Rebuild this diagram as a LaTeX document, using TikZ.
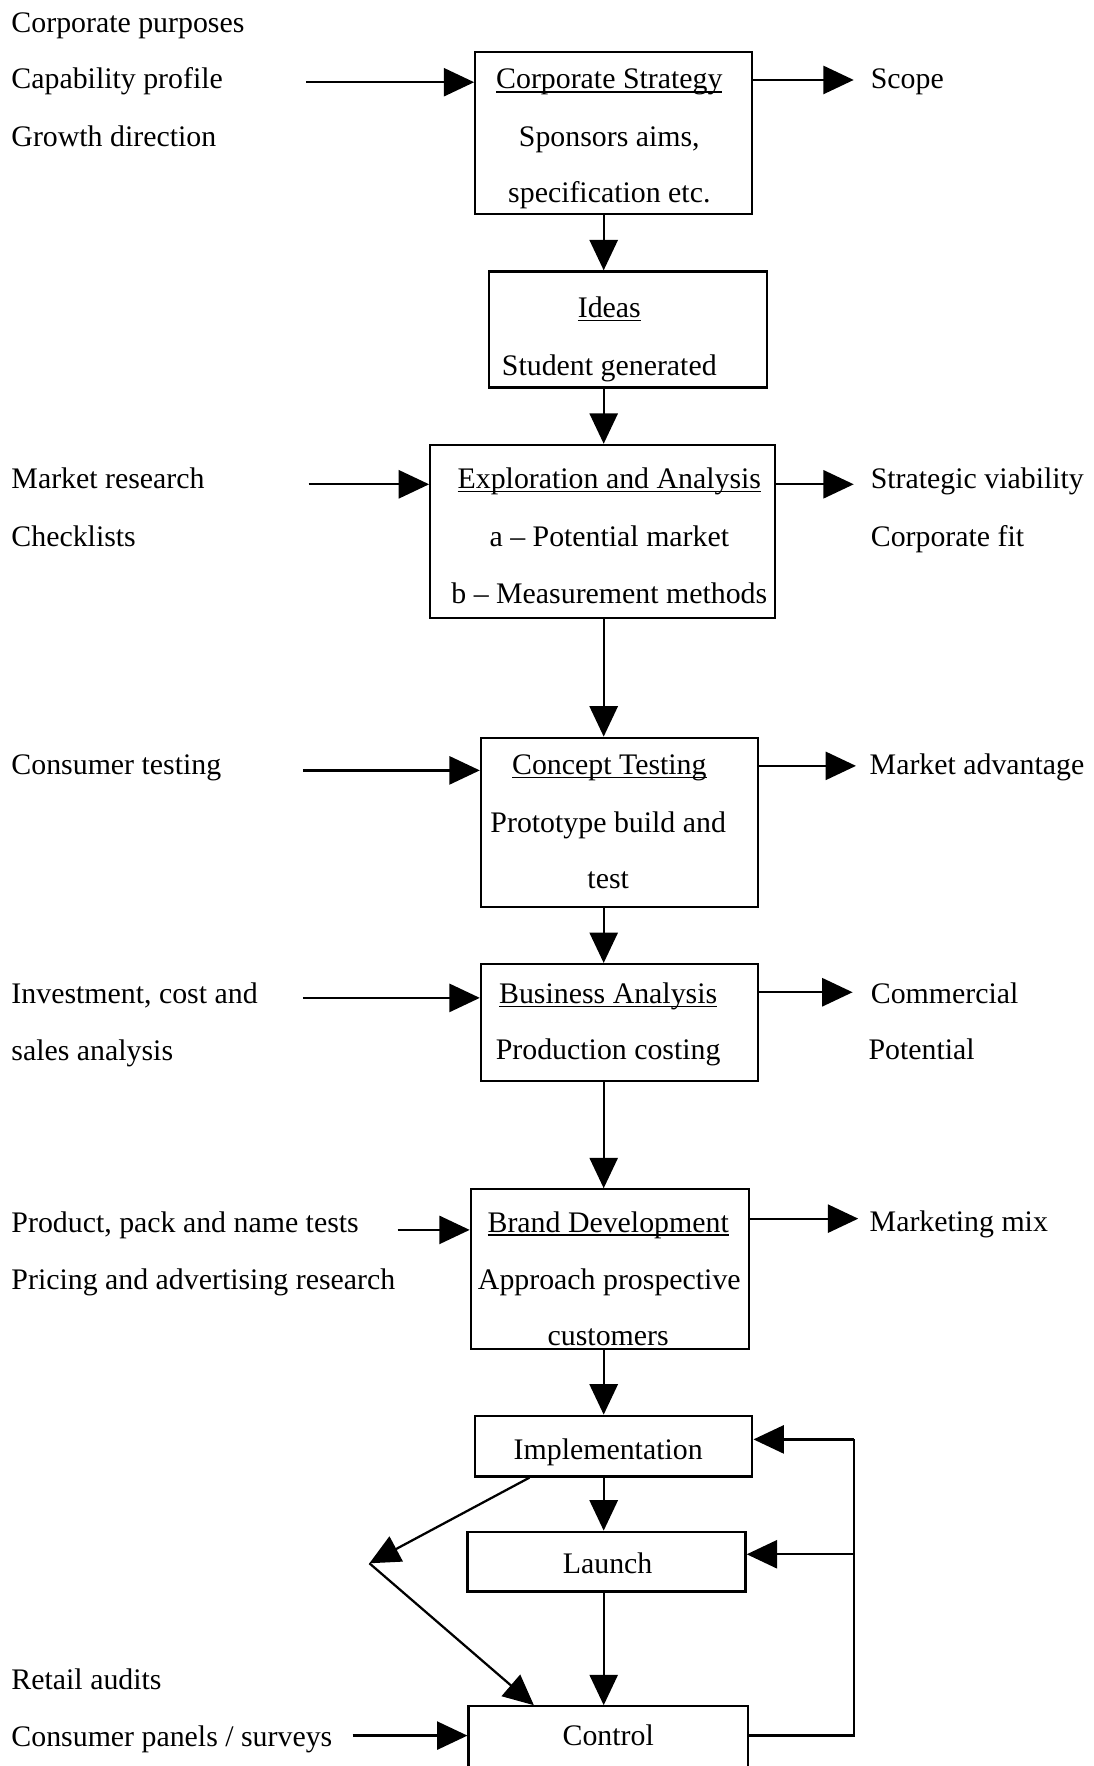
\documentclass[tikz,border=0pt]{standalone}
\usepackage{fontspec}
\setmainfont{Liberation Serif}
\usetikzlibrary{arrows.meta,calc}
\newcommand\myul[1]{\setbox0\hbox{#1}\rlap{\rule[-3.2pt]{\wd0}{1.3pt}}\box0}
\begin{document}
\begin{tikzpicture}[x=1pt,y=-1pt,
  box/.style={draw,line width=2pt,inner sep=0pt},
  t/.style={anchor=base,inner sep=0pt,font=\fontsize{26.5}{30}\selectfont},
  lt/.style={t,anchor=base west},
  arr/.style={line width=2pt,-{Triangle[length=27pt,width=25pt]}},
  ln/.style={line width=2pt}]
\useasboundingbox (0,0) rectangle (971,1568);
\clip (0,0) rectangle (971,1568);
\fill[white] (0,0) rectangle (971,1568);
% boxes
\node[box,minimum width=246pt,minimum height=144pt] (cs) at (545,118) {};
\node[box,minimum width=247pt,minimum height=103pt] (ideas) at (557.5,292.5) {};
\node[box,minimum width=306pt,minimum height=154pt] (expl) at (535,472) {};
\node[box,minimum width=246pt,minimum height=150pt] (conc) at (550,730) {};
\node[box,minimum width=246pt,minimum height=104pt] (bus) at (550,908) {};
\node[box,minimum width=247pt,minimum height=142pt] (brand) at (541.5,1127) {};
\node[box,minimum width=246pt,minimum height=54pt] (impl) at (545,1284) {};
\node[box,minimum width=247pt,minimum height=53pt] (launch) at (538.5,1386.5) {};
\node[box,minimum width=248pt,minimum height=85pt] (ctrl) at (540,1557.5) {};
% box texts
\node[t] (cs1) at (541,79) {\myul{Corporate Strategy}};
\node[t] (cs2) at (541,130) {Sponsors aims,};
\node[t] (cs3) at (541,180) {specification etc.};
\node[t] (id1) at (541,282) {\myul{Ideas}};
\node[t] (id2) at (541,333) {Student generated};
\node[t] (ex1) at (541,434) {\myul{Exploration and Analysis}};
\node[t] (ex2) at (541,485) {a -- Potential market};
\node[t] (ex3) at (541,536) {b -- Measurement methods};
\node[t] (co1) at (541,688) {\myul{Concept Testing}};
\node[t] (co2) at (540,739) {Prototype build and};
\node[t] (co3) at (540,789) {test};
\node[t] (bu1) at (540,891) {\myul{Business Analysis}};
\node[t] (bu2) at (540,941) {Production costing};
\node[t] (br1) at (540,1094) {\myul{Brand Development}};
\node[t] (br2) at (541,1145) {Approach prospective};
\node[t] (br3) at (540,1195) {customers};
\node[t] (im1) at (540,1296) {Implementation};
\node[t] (la1) at (539.5,1397) {Launch};
\node[t] (ct1) at (540,1550) {Control};
% left texts
\node[lt] (l1) at (10,29) {Corporate purposes};
\node[lt] (l2) at (10,79) {Capability profile};
\node[lt] (l3) at (10,130) {Growth direction};
\node[lt] (l4) at (10,434) {Market research};
\node[lt] (l5) at (10,485) {Checklists};
\node[lt] (l6) at (10,688) {Consumer testing};
\node[lt] (l7) at (10,891) {Investment, cost and};
\node[lt] (l8) at (10,942) {sales analysis};
\node[lt] (l9) at (10,1094) {Product, pack and name tests};
\node[lt] (l10) at (10,1145) {Pricing and advertising research};
\node[lt] (l11) at (10,1500) {Retail audits};
\node[lt] (l12) at (10,1551) {Consumer panels / surveys};
% right texts
\node[lt] (r1) at (773,79) {Scope};
\node[lt] (r2) at (773,434) {Strategic viability};
\node[lt] (r3) at (773,485) {Corporate fit};
\node[lt] (r4) at (772,688) {Market advantage};
\node[lt] (r5) at (773,891) {Commercial};
\node[lt] (r6) at (771,941) {Potential};
\node[lt] (r7) at (772,1093) {Marketing mix};
% spine arrows
\coordinate (sp) at (536,0);
\draw[arr] (cs.south -| sp) -- (ideas.north -| sp);
\draw[arr] (ideas.south -| sp) -- (expl.north -| sp);
\draw[arr] (expl.south -| sp) -- (conc.north -| sp);
\draw[arr] (conc.south -| sp) -- (bus.north -| sp);
\draw[arr] (bus.south -| sp) -- (brand.north -| sp);
\draw[arr] (brand.south -| sp) -- (impl.north -| sp);
\draw[arr] (impl.south -| sp) -- (launch.north -| sp);
\draw[arr] (launch.south -| sp) -- (ctrl.north -| sp);
% input arrows
\coordinate (i1) at (272,73);
\coordinate (i2) at (274,430);
\coordinate (i3) at (269,684);
\coordinate (i4) at (269,886);
\coordinate (i5) at (353,1092);
\coordinate (i6) at (313,1541);
\draw[arr] (i1) -- (i1 -| cs.west);
\draw[arr] (i2) -- (i2 -| expl.west);
\draw[arr] (i3) -- (i3 -| conc.west);
\draw[arr] (i4) -- (i4 -| bus.west);
\draw[arr] (i5) -- (i5 -| brand.west);
\draw[arr] (i6) -- (i6 -| ctrl.west);
% output arrows
\coordinate (o1) at (758,71);
\coordinate (o2) at (758,430);
\coordinate (o3) at (760,680);
\coordinate (o4) at (757,881);
\coordinate (o5) at (762,1082);
\draw[arr] (o1 -| cs.east) -- (o1);
\draw[arr] (o2 -| expl.east) -- (o2);
\draw[arr] (o3 -| conc.east) -- (o3);
\draw[arr] (o4 -| bus.east) -- (o4);
\draw[arr] (o5 -| brand.east) -- (o5);
% feedback loop
\coordinate (fbb) at (758,1541);
\coordinate (fbm) at (758,1380);
\coordinate (fbt) at (758,1278);
\draw[ln] (fbb -| ctrl.east) -- (fbb) -- (fbt);
\draw[arr] (fbt) -- (fbt -| impl.east);
\draw[arr] (fbm) -- (fbm -| launch.east);
% diagonal
\coordinate (dx) at (470,0);
\coordinate (dx2) at (474,0);
\coordinate (apex) at (328,1388);
\draw[arr] (impl.south -| dx) -- (apex);
\draw[arr] (apex) -- (ctrl.north -| dx2);
\end{tikzpicture}
\end{document}
